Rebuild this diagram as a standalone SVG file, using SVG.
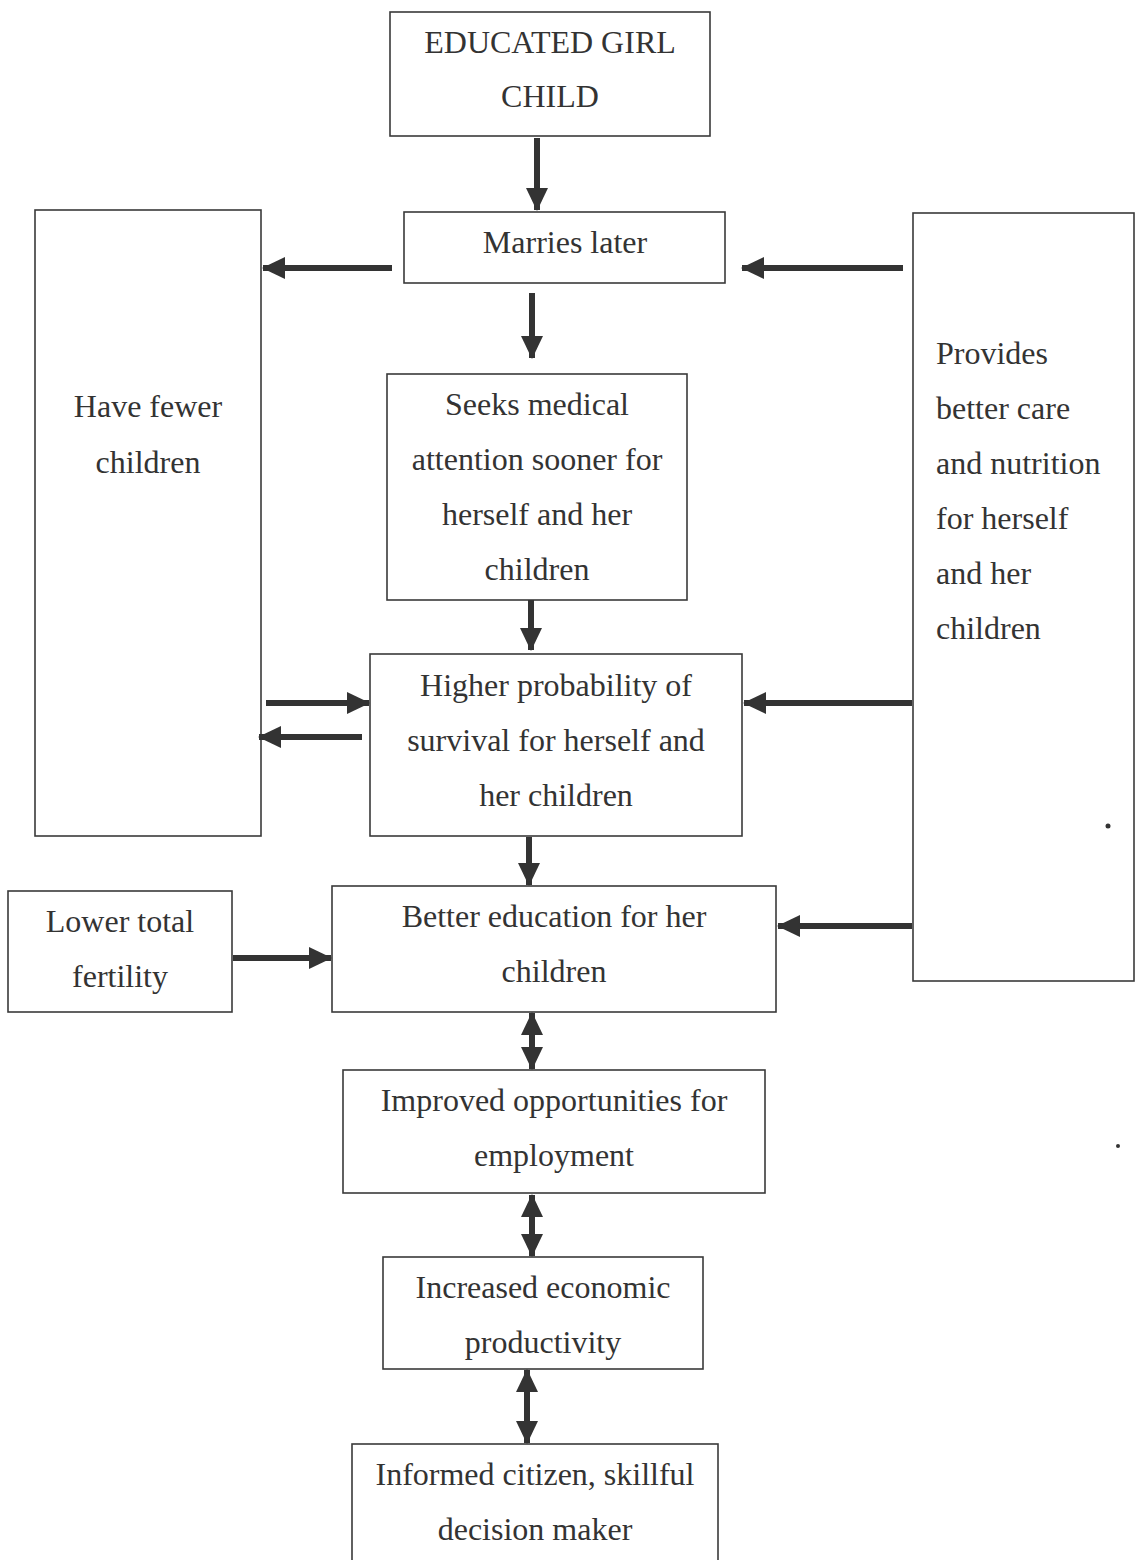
<svg xmlns="http://www.w3.org/2000/svg" width="1137" height="1560" viewBox="0 0 1137 1560">
<style>
.box{fill:#fff;stroke:#3a3a3a;stroke-width:1.6}
.t{font-family:"Liberation Serif","Times New Roman",serif;font-size:32px;fill:#333;text-anchor:middle}
.tl{font-family:"Liberation Serif","Times New Roman",serif;font-size:32px;fill:#333;text-anchor:start}
.c{stroke:#333;stroke-width:6;fill:none}
</style>
<defs>
<marker id="ah" markerUnits="userSpaceOnUse" markerWidth="24" markerHeight="24" viewBox="0 0 24 24" refX="22" refY="12" orient="auto-start-reverse">
<path d="M0,1 L23,12 L0,23 Z" fill="#333"/>
</marker>
</defs>
<rect width="1137" height="1560" fill="#fff"/>
<g id="n-educated"><rect class="box" x="390" y="12" width="320" height="124"/><text class="t" x="550" y="53">EDUCATED GIRL</text><text class="t" x="550" y="107">CHILD</text></g>
<g id="n-marries"><rect class="box" x="404" y="212" width="321" height="71"/><text class="t" x="565" y="253">Marries later</text></g>
<g id="n-fewer"><rect class="box" x="35" y="210" width="226" height="626"/><text class="t" x="148" y="417">Have fewer</text><text class="t" x="148" y="473">children</text></g>
<g id="n-provides"><rect class="box" x="913" y="213" width="221" height="768"/><text class="tl" x="936" y="364">Provides</text><text class="tl" x="936" y="419">better care</text><text class="tl" x="936" y="474">and nutrition</text><text class="tl" x="936" y="529">for herself</text><text class="tl" x="936" y="584">and her</text><text class="tl" x="936" y="639">children</text></g>
<g id="n-seeks"><rect class="box" x="387" y="374" width="300" height="226"/><text class="t" x="537" y="415">Seeks medical</text><text class="t" x="537" y="470">attention sooner for</text><text class="t" x="537" y="525">herself and her</text><text class="t" x="537" y="580">children</text></g>
<g id="n-higher"><rect class="box" x="370" y="654" width="372" height="182"/><text class="t" x="556" y="696">Higher probability of</text><text class="t" x="556" y="751">survival for herself and</text><text class="t" x="556" y="806">her children</text></g>
<g id="n-lower"><rect class="box" x="8" y="891" width="224" height="121"/><text class="t" x="120" y="932">Lower total</text><text class="t" x="120" y="987">fertility</text></g>
<g id="n-better"><rect class="box" x="332" y="886" width="444" height="126"/><text class="t" x="554" y="927">Better education for her</text><text class="t" x="554" y="982">children</text></g>
<g id="n-improved"><rect class="box" x="343" y="1070" width="422" height="123"/><text class="t" x="554" y="1111">Improved opportunities for</text><text class="t" x="554" y="1166">employment</text></g>
<g id="n-increased"><rect class="box" x="383" y="1257" width="320" height="112"/><text class="t" x="543" y="1298">Increased economic</text><text class="t" x="543" y="1353">productivity</text></g>
<g id="n-informed"><rect class="box" x="352" y="1444" width="366" height="140"/><text class="t" x="535" y="1485">Informed citizen, skillful</text><text class="t" x="535" y="1540">decision maker</text></g>
<g id="connectors">
<line class="c" x1="537" y1="138" x2="537" y2="210" marker-end="url(#ah)"/>
<line class="c" x1="392" y1="268" x2="263" y2="268" marker-end="url(#ah)"/>
<line class="c" x1="903" y1="268" x2="742" y2="268" marker-end="url(#ah)"/>
<line class="c" x1="532" y1="293" x2="532" y2="358" marker-end="url(#ah)"/>
<line class="c" x1="531" y1="600" x2="531" y2="650" marker-end="url(#ah)"/>
<line class="c" x1="266" y1="703" x2="369" y2="703" marker-end="url(#ah)"/>
<line class="c" x1="362" y1="737" x2="259" y2="737" marker-end="url(#ah)"/>
<line class="c" x1="912" y1="703" x2="744" y2="703" marker-end="url(#ah)"/>
<line class="c" x1="529" y1="837" x2="529" y2="885" marker-end="url(#ah)"/>
<line class="c" x1="233" y1="958" x2="331" y2="958" marker-end="url(#ah)"/>
<line class="c" x1="912" y1="926" x2="778" y2="926" marker-end="url(#ah)"/>
<line class="c" x1="532" y1="1013" x2="532" y2="1069" marker-start="url(#ah)" marker-end="url(#ah)"/>
<line class="c" x1="532" y1="1195" x2="532" y2="1256" marker-start="url(#ah)" marker-end="url(#ah)"/>
<line class="c" x1="527" y1="1370" x2="527" y2="1443" marker-start="url(#ah)" marker-end="url(#ah)"/>
</g>
<circle cx="1108" cy="826" r="2.5" fill="#333"/>
<circle cx="1118" cy="1146" r="2" fill="#333"/>
</svg>
